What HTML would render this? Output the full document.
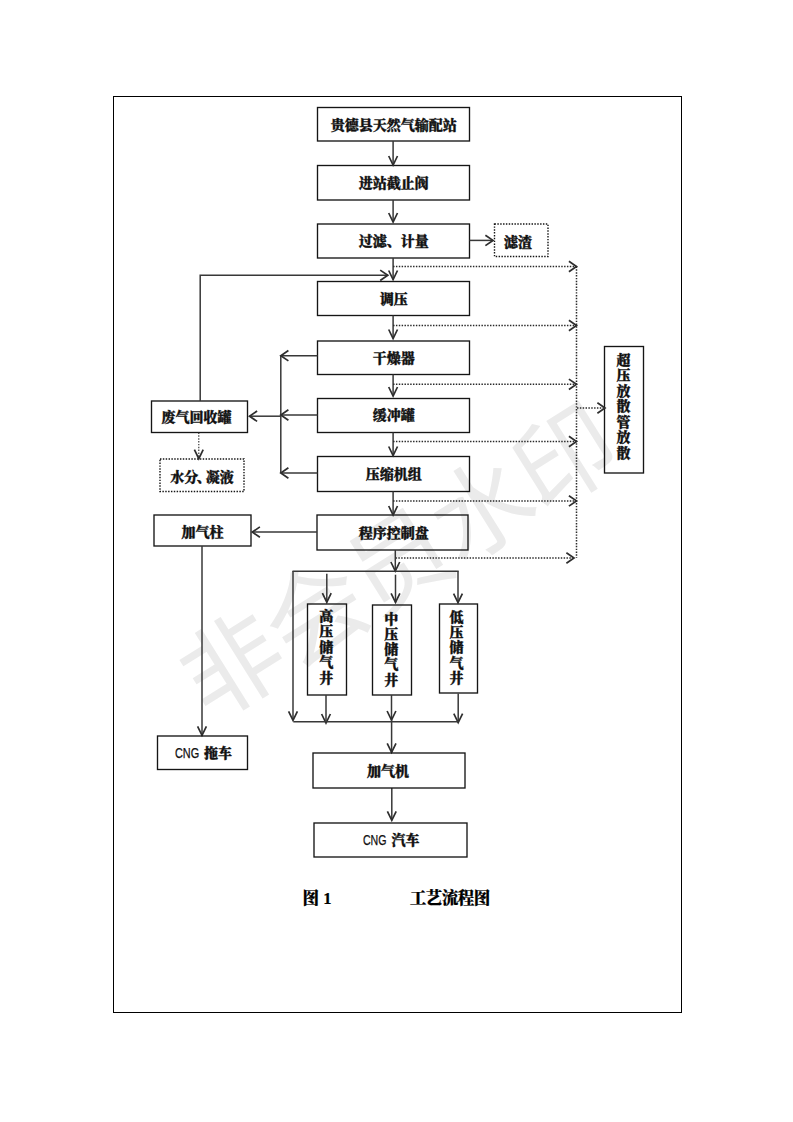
<!DOCTYPE html>
<html lang="zh-CN">
<head>
<meta charset="utf-8">
<title>工艺流程图</title>
<style>
html,body{margin:0;padding:0;background:#fff;}
body{width:793px;height:1122px;overflow:hidden;position:relative;}
svg{position:absolute;left:0;top:0;display:block;}
.t{font-family:"Liberation Serif","Noto Serif CJK SC",serif;font-weight:900;fill:#111;stroke:#111;stroke-width:0.35;}
.s{font-family:"Liberation Sans","Noto Sans CJK SC",sans-serif;font-weight:400;fill:#111;stroke:#111;stroke-width:0.25;}
.c{font-family:"Liberation Serif","Noto Serif CJK SC",serif;font-weight:900;fill:#000;stroke:#000;stroke-width:0.2;}
.wm{font-family:"Liberation Sans","Noto Sans CJK SC",sans-serif;font-weight:400;fill:#ebebeb;}
</style>
</head>
<body>
<svg width="793" height="1122" viewBox="0 0 793 1122">
<text class="wm" font-size="100" text-anchor="middle" transform="translate(399 561.4) rotate(-32)" x="-196.2 -98.1 0 98.1 196.2" y="36">非会员水印</text>
<rect x="113.5" y="96.5" width="568" height="916" fill="none" stroke="#000" stroke-width="1"/>
<rect x="317.5" y="107.5" width="152.00" height="33.50" fill="none" stroke="#151515" stroke-width="1.35"/>
<text x="393.7" y="129.7" class="t" font-size="14" text-anchor="middle">贵德县天然气输配站</text>
<rect x="317.5" y="165.5" width="152.00" height="34.50" fill="none" stroke="#151515" stroke-width="1.35"/>
<text x="393.7" y="188.2" class="t" font-size="14" text-anchor="middle">进站截止阀</text>
<rect x="317.5" y="224.0" width="152.00" height="34.00" fill="none" stroke="#151515" stroke-width="1.35"/>
<text x="393.7" y="246.4" class="t" font-size="14" text-anchor="middle">过滤、计量</text>
<rect x="317.5" y="281.5" width="152.00" height="34.00" fill="none" stroke="#151515" stroke-width="1.35"/>
<text x="393.7" y="303.9" class="t" font-size="14" text-anchor="middle">调压</text>
<rect x="317.5" y="341.0" width="152.00" height="33.50" fill="none" stroke="#151515" stroke-width="1.35"/>
<text x="393.7" y="363.1" class="t" font-size="14" text-anchor="middle">干燥器</text>
<rect x="317.5" y="398.5" width="152.00" height="34.00" fill="none" stroke="#151515" stroke-width="1.35"/>
<text x="393.7" y="420.1" class="t" font-size="14" text-anchor="middle">缓冲罐</text>
<rect x="317.5" y="456.5" width="152.00" height="35.00" fill="none" stroke="#151515" stroke-width="1.35"/>
<text x="393.7" y="479.4" class="t" font-size="14" text-anchor="middle">压缩机组</text>
<rect x="317.0" y="515.0" width="151.00" height="35.00" fill="none" stroke="#151515" stroke-width="1.35"/>
<text x="393.7" y="537.9" class="t" font-size="14" text-anchor="middle">程序控制盘</text>
<path d="M393.1 141 L393.1 165" fill="none" stroke="#383838" stroke-width="1.5"/>
<path d="M388.70000000000005 156.0 L393.1 165 L397.5 156.0" fill="none" stroke="#2e2e2e" stroke-width="1.7" stroke-linejoin="miter"/>
<path d="M393.1 200 L393.1 222" fill="none" stroke="#383838" stroke-width="1.5"/>
<path d="M388.70000000000005 213.0 L393.1 222 L397.5 213.0" fill="none" stroke="#2e2e2e" stroke-width="1.7" stroke-linejoin="miter"/>
<path d="M393.1 258 L393.1 279.5" fill="none" stroke="#383838" stroke-width="1.5"/>
<path d="M388.70000000000005 270.5 L393.1 279.5 L397.5 270.5" fill="none" stroke="#2e2e2e" stroke-width="1.7" stroke-linejoin="miter"/>
<path d="M393.1 315.5 L393.1 338.5" fill="none" stroke="#383838" stroke-width="1.5"/>
<path d="M388.70000000000005 329.5 L393.1 338.5 L397.5 329.5" fill="none" stroke="#2e2e2e" stroke-width="1.7" stroke-linejoin="miter"/>
<path d="M393.1 374.5 L393.1 396" fill="none" stroke="#383838" stroke-width="1.5"/>
<path d="M388.70000000000005 387.0 L393.1 396 L397.5 387.0" fill="none" stroke="#2e2e2e" stroke-width="1.7" stroke-linejoin="miter"/>
<path d="M393.1 432.5 L393.1 455.5" fill="none" stroke="#383838" stroke-width="1.5"/>
<path d="M388.70000000000005 446.5 L393.1 455.5 L397.5 446.5" fill="none" stroke="#2e2e2e" stroke-width="1.7" stroke-linejoin="miter"/>
<path d="M393.1 491.5 L393.1 515" fill="none" stroke="#383838" stroke-width="1.5"/>
<path d="M388.70000000000005 506.0 L393.1 515 L397.5 506.0" fill="none" stroke="#2e2e2e" stroke-width="1.7" stroke-linejoin="miter"/>
<rect x="494.5" y="224.0" width="53.50" height="32.50" fill="none" stroke="#151515" stroke-width="1.4" stroke-dasharray="1.45 1.4"/>
<text x="518" y="246.5" class="t" font-size="14" text-anchor="middle">滤渣</text>
<path d="M469.5 240.4 L493 240.4" fill="none" stroke="#383838" stroke-width="1.5"/>
<path d="M485.4 235.20000000000002 L493 240.4 L485.4 245.6" fill="none" stroke="#2e2e2e" stroke-width="1.7" stroke-linejoin="miter"/>
<rect x="151.5" y="401.0" width="96.00" height="31.50" fill="none" stroke="#151515" stroke-width="1.35"/>
<text x="196.5" y="422" class="t" font-size="14" text-anchor="middle">废气回收罐</text>
<rect x="160.0" y="459.0" width="84.00" height="32.50" fill="none" stroke="#151515" stroke-width="1.4" stroke-dasharray="1.45 1.4"/>
<text x="202" y="482" class="t" font-size="14" text-anchor="middle">水分<tspan dx="-1.5">、</tspan><tspan dx="-5">凝液</tspan></text>
<path d="M198.8 432.5 L198.8 458" fill="none" stroke="#2a2a2a" stroke-width="1.1" stroke-dasharray="1.45 1.4"/>
<path d="M194.4 449.7 L198.8 458.7 L203.20000000000002 449.7" fill="none" stroke="#2e2e2e" stroke-width="1.7" stroke-linejoin="miter"/>
<rect x="154.0" y="515.0" width="97.00" height="31.00" fill="none" stroke="#151515" stroke-width="1.35"/>
<text x="202.5" y="536.5" class="t" font-size="14" text-anchor="middle">加气柱</text>
<rect x="604.5" y="346.5" width="39.00" height="126.50" fill="none" stroke="#151515" stroke-width="1.35"/>
<text x="623.5" y="364.5" class="t" font-size="14" text-anchor="middle">超</text>
<text x="623.5" y="380.05" class="t" font-size="14" text-anchor="middle">压</text>
<text x="623.5" y="395.6" class="t" font-size="14" text-anchor="middle">放</text>
<text x="623.5" y="411.15" class="t" font-size="14" text-anchor="middle">散</text>
<text x="623.5" y="426.7" class="t" font-size="14" text-anchor="middle">管</text>
<text x="623.5" y="442.25" class="t" font-size="14" text-anchor="middle">放</text>
<text x="623.5" y="457.8" class="t" font-size="14" text-anchor="middle">散</text>
<path d="M200.2 401 L200.2 275.3 L387.8 275.3" fill="none" stroke="#383838" stroke-width="1.5"/>
<path d="M380.2 270.1 L387.8 275.3 L380.2 280.5" fill="none" stroke="#2e2e2e" stroke-width="1.7" stroke-linejoin="miter"/>
<path d="M280.8 355.5 L280.8 473" fill="none" stroke="#383838" stroke-width="1.5"/>
<path d="M317.5 355.7 L280.8 355.7" fill="none" stroke="#383838" stroke-width="1.5"/>
<path d="M288.40000000000003 350.5 L280.8 355.7 L288.40000000000003 360.9" fill="none" stroke="#2e2e2e" stroke-width="1.7" stroke-linejoin="miter"/>
<path d="M317.5 415 L280.8 415" fill="none" stroke="#383838" stroke-width="1.5"/>
<path d="M288.40000000000003 409.8 L280.8 415 L288.40000000000003 420.2" fill="none" stroke="#2e2e2e" stroke-width="1.7" stroke-linejoin="miter"/>
<path d="M280.8 416.2 L249.5 416.2" fill="none" stroke="#383838" stroke-width="1.5"/>
<path d="M257.1 411.0 L249.5 416.2 L257.1 421.4" fill="none" stroke="#2e2e2e" stroke-width="1.7" stroke-linejoin="miter"/>
<path d="M317.5 473 L280.8 473" fill="none" stroke="#383838" stroke-width="1.5"/>
<path d="M288.40000000000003 467.8 L280.8 473 L288.40000000000003 478.2" fill="none" stroke="#2e2e2e" stroke-width="1.7" stroke-linejoin="miter"/>
<path d="M317 532.1 L252.3 532.1" fill="none" stroke="#383838" stroke-width="1.5"/>
<path d="M259.90000000000003 526.9 L252.3 532.1 L259.90000000000003 537.3000000000001" fill="none" stroke="#2e2e2e" stroke-width="1.7" stroke-linejoin="miter"/>
<path d="M202 546 L202 735.4" fill="none" stroke="#383838" stroke-width="1.5"/>
<path d="M197.6 726.4 L202 735.4 L206.4 726.4" fill="none" stroke="#2e2e2e" stroke-width="1.7" stroke-linejoin="miter"/>
<path d="M393.1 266.5 L576.5 266.5" fill="none" stroke="#2a2a2a" stroke-width="1.5" stroke-dasharray="1.45 1.4"/>
<path d="M568.9 261.3 L576.5 266.5 L568.9 271.7" fill="none" stroke="#2e2e2e" stroke-width="1.7" stroke-linejoin="miter"/>
<path d="M393.1 325.5 L576.5 325.5" fill="none" stroke="#2a2a2a" stroke-width="1.5" stroke-dasharray="1.45 1.4"/>
<path d="M568.9 320.3 L576.5 325.5 L568.9 330.7" fill="none" stroke="#2e2e2e" stroke-width="1.7" stroke-linejoin="miter"/>
<path d="M393.1 384.3 L576.5 384.3" fill="none" stroke="#2a2a2a" stroke-width="1.5" stroke-dasharray="1.45 1.4"/>
<path d="M568.9 379.1 L576.5 384.3 L568.9 389.5" fill="none" stroke="#2e2e2e" stroke-width="1.7" stroke-linejoin="miter"/>
<path d="M393.1 441.5 L576.5 441.5" fill="none" stroke="#2a2a2a" stroke-width="1.5" stroke-dasharray="1.45 1.4"/>
<path d="M568.9 436.3 L576.5 441.5 L568.9 446.7" fill="none" stroke="#2e2e2e" stroke-width="1.7" stroke-linejoin="miter"/>
<path d="M393.1 500.9 L576.5 500.9" fill="none" stroke="#2a2a2a" stroke-width="1.5" stroke-dasharray="1.45 1.4"/>
<path d="M568.9 495.7 L576.5 500.9 L568.9 506.09999999999997" fill="none" stroke="#2e2e2e" stroke-width="1.7" stroke-linejoin="miter"/>
<path d="M395.5 558 L574 558" fill="none" stroke="#2a2a2a" stroke-width="1.5" stroke-dasharray="1.45 1.4"/>
<path d="M566.4 552.8 L574 558 L566.4 563.2" fill="none" stroke="#2e2e2e" stroke-width="1.7" stroke-linejoin="miter"/>
<path d="M576.5 266.5 L576.5 558" fill="none" stroke="#2a2a2a" stroke-width="1.5" stroke-dasharray="1.45 1.4"/>
<path d="M577 408 L605 408" fill="none" stroke="#2a2a2a" stroke-width="1.5" stroke-dasharray="1.45 1.4"/>
<path d="M597.4 402.8 L605 408 L597.4 413.2" fill="none" stroke="#2e2e2e" stroke-width="1.7" stroke-linejoin="miter"/>
<path d="M395.3 550 L395.3 571" fill="none" stroke="#383838" stroke-width="1.5"/>
<path d="M390.90000000000003 562.0 L395.3 571 L399.7 562.0" fill="none" stroke="#2e2e2e" stroke-width="1.7" stroke-linejoin="miter"/>
<path d="M292.5 571.2 L458.7 571.2" fill="none" stroke="#383838" stroke-width="1.5"/>
<path d="M293 571 L293 720.3" fill="none" stroke="#383838" stroke-width="1.5"/>
<path d="M288.6 711.3 L293 720.3 L297.4 711.3" fill="none" stroke="#2e2e2e" stroke-width="1.7" stroke-linejoin="miter"/>
<path d="M326.8 573.7 L326.8 602.2" fill="none" stroke="#383838" stroke-width="1.5"/>
<path d="M322.40000000000003 593.2 L326.8 602.2 L331.2 593.2" fill="none" stroke="#2e2e2e" stroke-width="1.7" stroke-linejoin="miter"/>
<path d="M395.5 574.7 L395.5 602.4" fill="none" stroke="#383838" stroke-width="1.5"/>
<path d="M391.1 593.4 L395.5 602.4 L399.9 593.4" fill="none" stroke="#2e2e2e" stroke-width="1.7" stroke-linejoin="miter"/>
<path d="M458 571.2 L458 602.6" fill="none" stroke="#383838" stroke-width="1.5"/>
<path d="M453.6 593.6 L458 602.6 L462.4 593.6" fill="none" stroke="#2e2e2e" stroke-width="1.7" stroke-linejoin="miter"/>
<rect x="307.5" y="604.0" width="39.00" height="91.00" fill="none" stroke="#151515" stroke-width="1.35"/>
<text x="326.3" y="620.5" class="t" font-size="14" text-anchor="middle">高</text>
<text x="326.3" y="636.1" class="t" font-size="14" text-anchor="middle">压</text>
<text x="326.3" y="651.7" class="t" font-size="14" text-anchor="middle">储</text>
<text x="326.3" y="667.3" class="t" font-size="14" text-anchor="middle">气</text>
<text x="326.3" y="682.9" class="t" font-size="14" text-anchor="middle">井</text>
<rect x="372.5" y="605.0" width="39.00" height="90.00" fill="none" stroke="#151515" stroke-width="1.35"/>
<text x="391.2" y="623.5" class="t" font-size="14" text-anchor="middle">中</text>
<text x="391.2" y="638.8" class="t" font-size="14" text-anchor="middle">压</text>
<text x="391.2" y="654.1" class="t" font-size="14" text-anchor="middle">储</text>
<text x="391.2" y="669.4" class="t" font-size="14" text-anchor="middle">气</text>
<text x="391.2" y="684.7" class="t" font-size="14" text-anchor="middle">井</text>
<rect x="439.5" y="604.0" width="38.00" height="89.00" fill="none" stroke="#151515" stroke-width="1.35"/>
<text x="456.5" y="621.5" class="t" font-size="14" text-anchor="middle">低</text>
<text x="456.5" y="636.9" class="t" font-size="14" text-anchor="middle">压</text>
<text x="456.5" y="652.3" class="t" font-size="14" text-anchor="middle">储</text>
<text x="456.5" y="667.7" class="t" font-size="14" text-anchor="middle">气</text>
<text x="456.5" y="683.1" class="t" font-size="14" text-anchor="middle">井</text>
<path d="M326 695 L326 723" fill="none" stroke="#383838" stroke-width="1.5"/>
<path d="M321.6 714.0 L326 723 L330.4 714.0" fill="none" stroke="#2e2e2e" stroke-width="1.7" stroke-linejoin="miter"/>
<path d="M391.5 695 L391.5 720" fill="none" stroke="#383838" stroke-width="1.5"/>
<path d="M387.1 711.0 L391.5 720 L395.9 711.0" fill="none" stroke="#2e2e2e" stroke-width="1.7" stroke-linejoin="miter"/>
<path d="M458.2 693.5 L458.2 722.6" fill="none" stroke="#383838" stroke-width="1.5"/>
<path d="M453.8 713.6 L458.2 722.6 L462.59999999999997 713.6" fill="none" stroke="#2e2e2e" stroke-width="1.7" stroke-linejoin="miter"/>
<path d="M293.3 721.8 L458.8 721.8" fill="none" stroke="#383838" stroke-width="1.5"/>
<path d="M391.6 720 L391.6 752.4" fill="none" stroke="#383838" stroke-width="1.5"/>
<path d="M387.20000000000005 743.4 L391.6 752.4 L396.0 743.4" fill="none" stroke="#2e2e2e" stroke-width="1.7" stroke-linejoin="miter"/>
<path d="M391.8 788 L391.8 820.3" fill="none" stroke="#383838" stroke-width="1.5"/>
<path d="M387.40000000000003 811.3 L391.8 820.3 L396.2 811.3" fill="none" stroke="#2e2e2e" stroke-width="1.7" stroke-linejoin="miter"/>
<rect x="157.5" y="736.0" width="90.00" height="33.50" fill="none" stroke="#151515" stroke-width="1.35"/>
<text x="175" y="758" class="s" font-size="14" textLength="24.2" lengthAdjust="spacingAndGlyphs">CNG</text>
<text x="204.1" y="757.5" class="t" font-size="14" text-anchor="start">拖车</text>
<rect x="313.0" y="753.0" width="152.00" height="35.00" fill="none" stroke="#151515" stroke-width="1.35"/>
<text x="388" y="776" class="t" font-size="14" text-anchor="middle">加气机</text>
<rect x="314.0" y="823.0" width="153.00" height="34.00" fill="none" stroke="#151515" stroke-width="1.35"/>
<text x="362.9" y="845.3" class="s" font-size="14" textLength="23.6" lengthAdjust="spacingAndGlyphs">CNG</text>
<text x="391.5" y="845.3" class="t" font-size="14" text-anchor="start">汽车</text>
<text x="302.6" y="904" class="c" font-size="16.6">图 1</text>
<text x="409.8" y="904" class="c" font-size="16.6" textLength="80.6">工艺流程图</text>
</svg>
</body>
</html>
